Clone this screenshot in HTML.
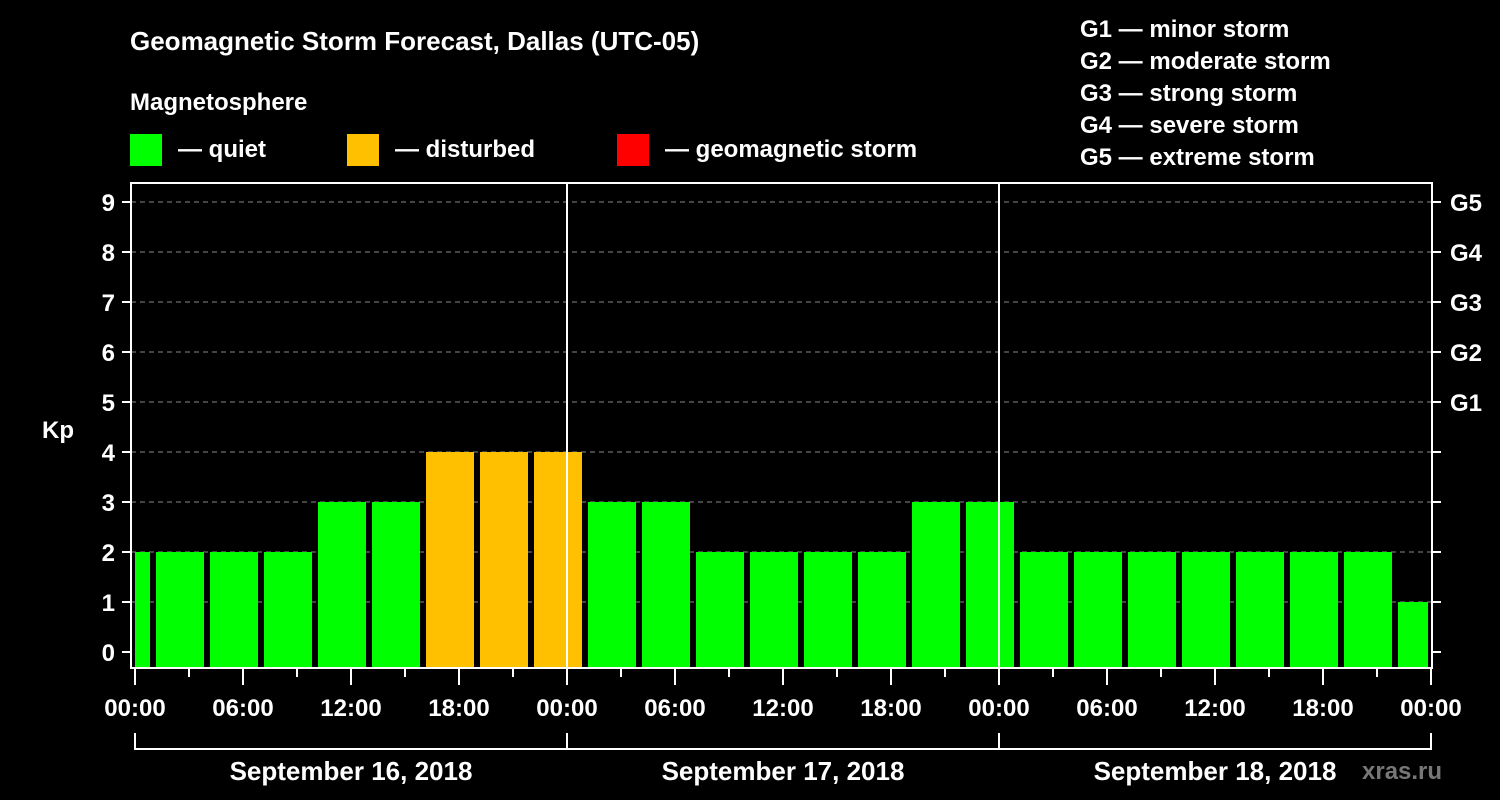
<!DOCTYPE html>
<html><head><meta charset="utf-8"><style>
html,body{margin:0;background:#000;width:1500px;height:800px;overflow:hidden}
svg text{font-family:"Liberation Sans",sans-serif;font-weight:bold;fill:#fff}
</style></head><body>
<svg width="1500" height="800">
<text x="130" y="50" font-size="26">Geomagnetic Storm Forecast, Dallas (UTC-05)</text>
<text x="130" y="110" font-size="24">Magnetosphere</text>
<g>
<rect x="130" y="134" width="32" height="32" fill="#00ff00"/>
<text x="178" y="157" font-size="24">— quiet</text>
<rect x="347" y="134" width="32" height="32" fill="#ffc000"/>
<text x="395" y="157" font-size="24">— disturbed</text>
<rect x="617" y="134" width="32" height="32" fill="#ff0000"/>
<text x="665" y="157" font-size="24">— geomagnetic storm</text>
</g>
<g font-size="24">
<text x="1080" y="37">G1 — minor storm</text>
<text x="1080" y="69">G2 — moderate storm</text>
<text x="1080" y="101">G3 — strong storm</text>
<text x="1080" y="133">G4 — severe storm</text>
<text x="1080" y="165">G5 — extreme storm</text>
</g>
<text x="42" y="438" font-size="24">Kp</text>
<text x="1362" y="779" font-size="24" fill="#666" style="fill:#777">xras.ru</text>
<g id="plot"></g>
</svg>
<script>
const values=[2,2,2,2,3,3,4,4,4,3,3,2,2,2,2,3,3,2,2,2,2,2,2,2,1];
const startHours=[-2,1,4,7,10,13,16,19,22,25,28,31,34,37,40,43,46,49,52,55,58,61,64,67,70];
const yTicks=[0,1,2,3,4,5,6,7,8,9];
const gLabels=["G1","G2","G3","G4","G5"];
const dates=["September 16, 2018","September 17, 2018","September 18, 2018"];
const timeLabels=["00:00","06:00","12:00","18:00"];
const NS="http://www.w3.org/2000/svg";
const L=131,R=1432,T=183,B=668;
const x=h=>135+18*h;
const y=v=>652-50*v;
const p=document.getElementById('plot');
function el(t,a){const e=document.createElementNS(NS,t);for(const k in a)e.setAttribute(k,a[k]);p.appendChild(e);return e;}
yTicks.forEach(v=>{
 if(v>0){const g=el('line',{x1:L,x2:R,y1:y(v),y2:y(v),stroke:'#888','stroke-dasharray':'5,4','stroke-width':1});
 
 }
});
values.forEach((v,i)=>{
 const s=Math.max(x(startHours[i])+3,135),e=Math.min(x(startHours[i]+3)-3,1428);
 const r=el('rect',{x:s,y:y(v),width:e-s,height:B-y(v),fill:v>=5?'#ff0000':v>=4?'#ffc000':'#00ff00'});
 
 
});
[1,2].forEach(d=>{const l=el('line',{x1:x(24*d),x2:x(24*d),y1:T,y2:B,stroke:'#fff','stroke-width':2});
 
 });
const f=el('rect',{x:L,y:T,width:R-L,height:B-T,fill:'none',stroke:'#fff','stroke-width':2});


yTicks.forEach(v=>{
 el('line',{x1:122,x2:L,y1:y(v),y2:y(v),stroke:'#fff','stroke-width':2});
 el('line',{x1:R,x2:1441,y1:y(v),y2:y(v),stroke:'#fff','stroke-width':2});
 const t=el('text',{x:115,y:y(v)+9,'text-anchor':'end','font-size':24});t.textContent=v;
 
 
 if(v>=5){const g=el('text',{x:1450,y:y(v)+9,'font-size':24});g.textContent=gLabels[v-5];
 
 }
});
for(let h=0;h<=72;h+=3){
 const long=h%6===0;
 el('line',{x1:x(h),x2:x(h),y1:B,y2:long?685:677,stroke:'#fff','stroke-width':2});
 if(long){const t=el('text',{x:x(h),y:716,'text-anchor':'middle','font-size':24});
 t.textContent=h===72?"00:00":timeLabels[(h%24)/6];
 
 }
}
el('line',{x1:135,x2:1431,y1:749,y2:749,stroke:'#fff','stroke-width':2});
[0,24,48,72].forEach(h=>el('line',{x1:x(h),x2:x(h),y1:733,y2:750,stroke:'#fff','stroke-width':2}));
dates.forEach((d,i)=>{const t=el('text',{x:x(24*i+12),y:780,'text-anchor':'middle','font-size':26});t.textContent=d;
 
 });
</script>
</body></html>
